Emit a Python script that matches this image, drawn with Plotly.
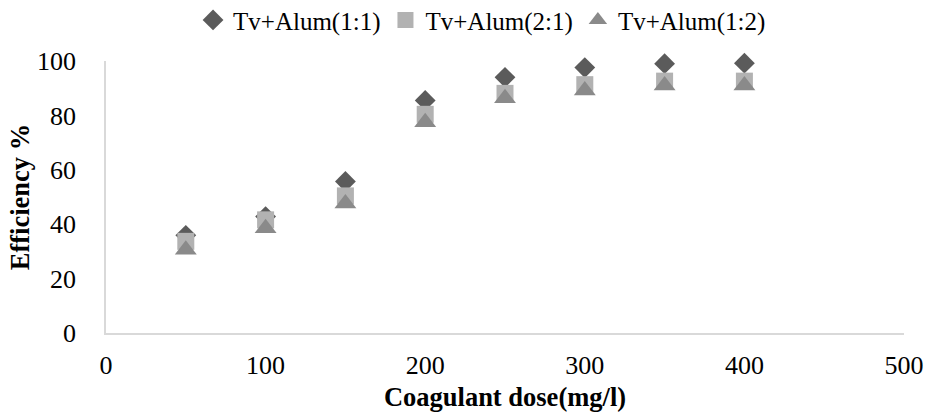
import plotly.graph_objects as go

doses = [50, 100, 150, 200, 250, 300, 350, 400]
eff_11 = [35.9, 42.8, 55.7, 85.5, 94.0, 97.6, 99.0, 99.2]
eff_21 = [33.7, 41.6, 50.4, 80.4, 88.1, 91.3, 92.6, 92.6]
eff_12 = [30.6, 38.5, 47.6, 77.5, 86.3, 89.2, 91.0, 91.0]

names = ["Tv+Alum(1:1)", "Tv+Alum(2:1)", "Tv+Alum(1:2)"]
series = [eff_11, eff_21, eff_12]
symbols = ["diamond", "square", "triangle-up"]
colors = ["#5b5b5b", "#b2b2b2", "#8a8a8a"]
sizes = [16, 17, 19]

font = "Liberation Serif, Times New Roman, serif"

fig = go.Figure()
for n, s, sym, c, sz in zip(names, series, symbols, colors, sizes):
    fig.add_trace(go.Scatter(x=doses, y=s, mode="markers", name=n, cliponaxis=False,
                             marker=dict(symbol=sym, color=c, size=sz, line=dict(width=0))))

fig.update_layout(
    width=927, height=418,
    margin=dict(l=106, r=23, t=61, b=85, autoexpand=False),
    paper_bgcolor="white", plot_bgcolor="white",
    font=dict(family=font, size=26, color="black"),
    showlegend=True,
    legend=dict(orientation="h", x=0.52, xanchor="center", xref="container",
                y=1.15, yanchor="middle", yref="paper",
                font=dict(size=25), itemwidth=30, tracegroupgap=0),
    xaxis=dict(range=[0, 500], dtick=100, showgrid=False, zeroline=False,
               showline=True, linecolor="#d9d9d9", linewidth=1.5, ticks="",
               ticklabelstandoff=8, automargin=False, tickfont=dict(size=26),
               title=dict(text="<b>Coagulant dose(mg/l)</b>", font=dict(size=26.5), standoff=8)),
    yaxis=dict(range=[0, 100], dtick=20, showgrid=False, zeroline=False,
               showline=True, linecolor="#d9d9d9", linewidth=1.5, ticks="",
               ticklabelstandoff=23, automargin=False, tickfont=dict(size=26),
               title=dict(text="<b>Efficiency %</b>", font=dict(size=26.5), standoff=0)),
)

fig.write_html("out.html", config={"displayModeBar": False},
               post_script="document.body.style.margin='0';document.body.style.overflow='hidden';")
